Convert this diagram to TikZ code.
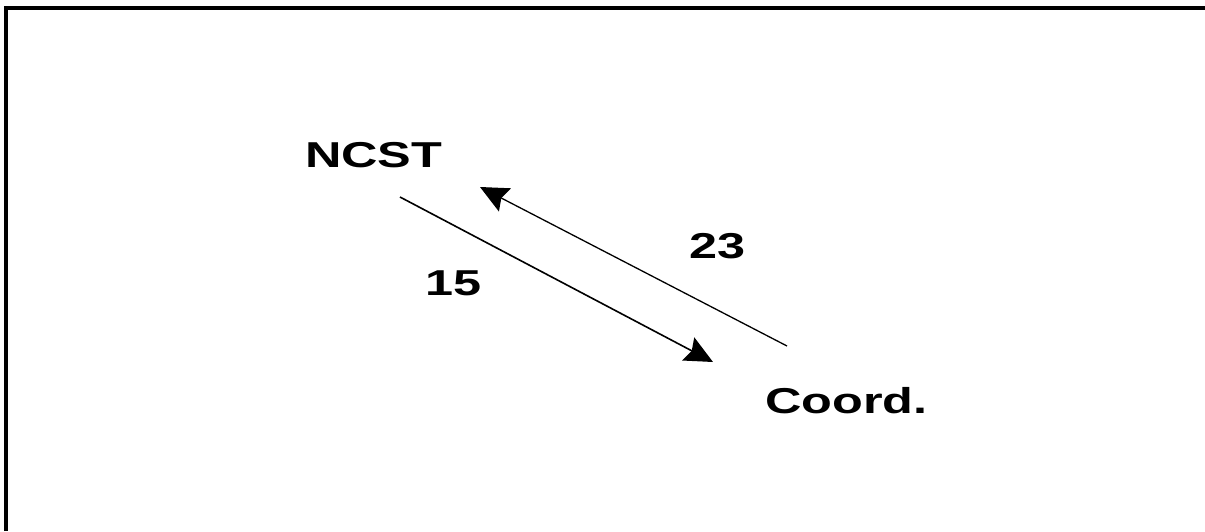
\documentclass[tikz,border=0pt]{standalone}
\usepackage{fontspec}
\usetikzlibrary{arrows.meta}
\newfontfamily\labfont{Liberation Sans}[FakeStretch=1.4]
\begin{document}
\begin{tikzpicture}[x=1pt,y=-1pt,
  lbl/.style={anchor=base west,inner sep=0pt,font=\labfont\bfseries\fontsize{36}{40}\selectfont},
  flow/.style={line width=1.6pt,-{Stealth[length=28pt,width=26pt,inset=4pt]}},
  frame/.style={line width=4pt}]
\useasboundingbox (0,0) rectangle (1205,531);
% open frame: left and top edges
\draw[frame] (5.5,531) -- (5.5,8) -- (1205,8);
% labels
\node[lbl] (ncst) at (305,167) {NCST};
\node[lbl] (coord) at (765,413) {Coord.};
\node[lbl] (n15) at (425,295) {15};
\node[lbl] (n23) at (689,258) {23};
% arrow end points
\coordinate (a1s) at (400,197);
\coordinate (a1e) at (713,362);
\coordinate (a2s) at (787,346);
\coordinate (a2e) at (480,187);
\draw[flow] (a1s) -- (a1e);
\draw[flow,line width=1.3pt] (a2s) -- (a2e);
\end{tikzpicture}
\end{document}
